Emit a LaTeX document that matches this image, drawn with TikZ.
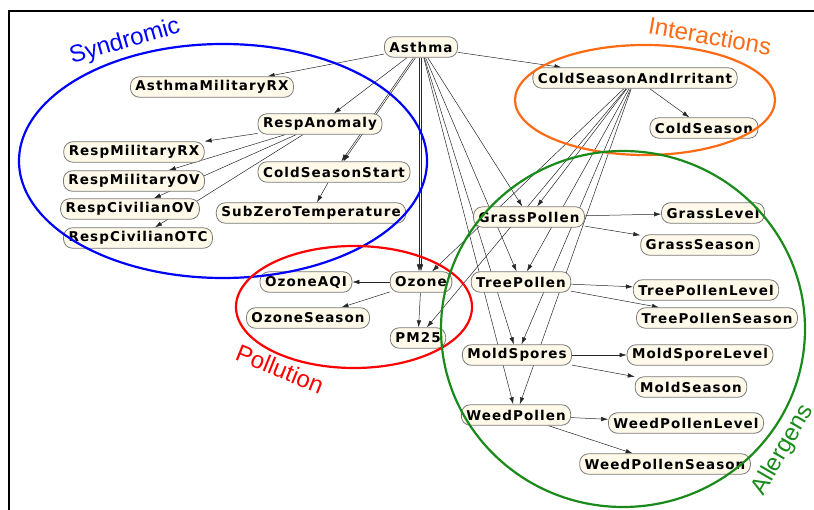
\documentclass[tikz,border=0pt]{standalone}
\usepackage{fontspec}
\setmainfont{Liberation Sans}
\newfontfamily\varfont[LetterSpace=8]{DejaVu Sans}
\usetikzlibrary{arrows.meta,backgrounds}
\definecolor{varfill}{HTML}{FFF9EA}
\definecolor{vardraw}{HTML}{7A7A7A}
\definecolor{interorange}{HTML}{FF6A14}
\definecolor{allergreen}{HTML}{1A8A1A}
\begin{document}
\begin{tikzpicture}[x=1pt,y=-1pt]
        \tikzstyle{block} = [rectangle, rounded corners=9pt, draw=vardraw, fill=varfill, text=black, font=\varfont\bfseries\fontsize{13.5}{15}\selectfont, minimum height=20.5pt, inner xsep=5pt, inner ysep=0pt, line width=.8pt]
        \tikzstyle{line} = [-{Latex[length=7pt,width=4.5pt]},draw=black!85,line width=.5]
        \tikzstyle{group} = [line width=2.2pt]
        \tikzstyle{grouplabel} = [font=\fontsize{24}{28}\selectfont, inner sep=0pt]
        \useasboundingbox (0,0) rectangle (814,510);
        \draw[line width=1.5pt] (9,510) -- (9,11) -- (814,11);
        % syndromic
        \node[block] (asthma) at (421,47) {Asthma};
        \node[block] (asthmarx) at (212,87) {AsthmaMilitaryRX};
        \node[block] (respanom) at (320,124) {RespAnomaly};
        \node[block] (respmilrx) at (134,152) {RespMilitaryRX};
        \node[block] (respmilov) at (134,181) {RespMilitaryOV};
        \node[block] (respcivov) at (130,209) {RespCivilianOV};
        \node[block] (respcivotc) at (138,238) {RespCivilianOTC};
        \node[block] (coldstart) at (334,172) {ColdSeasonStart};
        \node[block] (subzero) at (311,213) {SubZeroTemperature};
        % interactions
        \node[block] (coldirr) at (635,78) {ColdSeasonAndIrritant};
        \node[block] (coldseason) at (704,128) {ColdSeason};
        % pollution
        \node[block] (ozone) at (421,282) {Ozone};
        \node[block] (ozoneaqi) at (306,282) {OzoneAQI};
        \node[block] (ozoneseason) at (308,318) {OzoneSeason};
        \node[block] (pm) at (418,338) {PM25};
        % allergens
        \node[block] (grass) at (529,217) {GrassPollen};
        \node[block] (grasslevel) at (713,213) {GrassLevel};
        \node[block] (grassseason) at (700,245) {GrassSeason};
        \node[block] (tree) at (521,282) {TreePollen};
        \node[block] (treelevel) at (706,290) {TreePollenLevel};
        \node[block] (treeseason) at (717,318) {TreePollenSeason};
        \node[block] (mold) at (517,355) {MoldSpores};
        \node[block] (moldlevel) at (700,355) {MoldSporeLevel};
        \node[block] (moldseason) at (691,387) {MoldSeason};
        \node[block] (weed) at (516,415) {WeedPollen};
        \node[block] (weedlevel) at (686,423) {WeedPollenLevel};
        \node[block] (weedseason) at (665,464) {WeedPollenSeason};
        \begin{scope}[on background layer]
        \draw[line] (asthma) to (asthmarx);
        \draw[line] (asthma) to (respanom);
        \draw[line] (asthma) to (coldstart);
        \draw[line, transform canvas={xshift=2pt}] (asthma) to (coldstart);
        \draw[line] (asthma) to (coldirr);
        \draw[line] (asthma) to (ozone);
        \draw[line, transform canvas={xshift=-2pt}] (asthma) to (ozone);
        \draw[line] (asthma) to (grass);
        \draw[line] (asthma) to (tree);
        \draw[line] (asthma) to (mold);
        \draw[line] (asthma) to (weed);
        \draw[line] (respanom) to (respmilrx);
        \draw[line] (respanom) to (respmilov);
        \draw[line] (respanom) to (respcivov);
        \draw[line] (respanom) to (respcivotc);
        \draw[line] (coldstart) to (subzero);
        \draw[line] (coldirr) to (coldseason);
        \draw[line] (coldirr) to (grass);
        \draw[line] (coldirr) to (tree);
        \draw[line] (coldirr) to (mold);
        \draw[line] (coldirr) to (weed);
        \draw[line] (coldirr) to (ozone);
        \draw[line] (coldirr) to (pm);
        \draw[line] (ozone) to (ozoneaqi);
        \draw[line] (ozone) to (ozoneseason);
        \draw[line] (ozone) to (pm);
        \draw[line] (grass) to (grasslevel);
        \draw[line] (grass) to (grassseason);
        \draw[line] (tree) to (treelevel);
        \draw[line] (tree) to (treeseason);
        \draw[line] (mold) to (moldlevel);
        \draw[line] (mold) to (moldseason);
        \draw[line] (weed) to (weedlevel);
        \draw[line] (weed) to (weedseason);
        \end{scope}
        % groups
        \draw[group, blue] (223,161) ellipse [x radius=204pt, y radius=117pt];
        \draw[group, red] (354,307) ellipse [x radius=118pt, y radius=61pt];
        \draw[group, interorange] (645,100) ellipse [x radius=130pt, y radius=55pt];
        \draw[group, allergreen] (623,329) ellipse [x radius=182pt, y radius=178pt];
        \node[grouplabel, text=blue, rotate=16] (synlabel) at (125,42) {Syndromic};
        \node[grouplabel, text=interorange, rotate=-10] (interlabel) at (710,36) {Interactions};
        \node[grouplabel, text=red, rotate=-22] (pollabel) at (280,369) {Pollution};
        \node[grouplabel, text=allergreen, rotate=60] (allerlabel) at (783,450) {Allergens};
    \end{tikzpicture}
\end{document}
